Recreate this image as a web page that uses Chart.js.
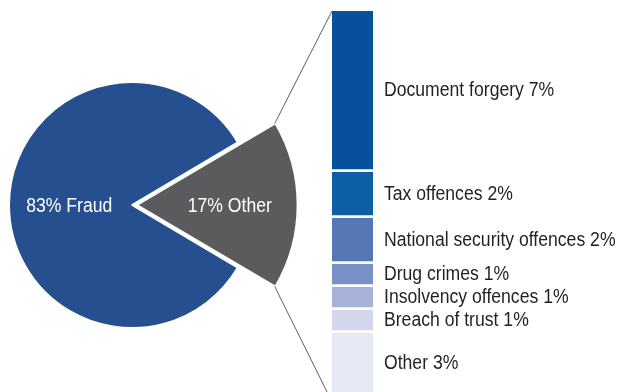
<!DOCTYPE html>
<html>
<head>
<meta charset="utf-8">
<script src="https://cdn.jsdelivr.net/npm/chart.js@4"></script>
<style>
  html, body { margin: 0; padding: 0; background: #fff; }
  #wrap { position: relative; width: 621px; height: 392px; overflow: hidden; }
  #wrap canvas { position: absolute; left: 0; top: 0; }
</style>
</head>
<body>
<div id="wrap">
  <canvas id="pie" width="621" height="392"></canvas>
  <canvas id="barra" width="621" height="392"></canvas>
</div>
<script>
/* Dados */

const pieLabels = ["Fraud", "Other"];
const pieValues = [83, 17];
const pieColors = ["#264f8f", "#5b5b5d"];

const otherLabels = ["Document forgery", "Tax offences", "National security offences", "Drug crimes", "Insolvency offences", "Breach of trust", "Other"];
const otherValues = [7, 2, 2, 1, 1, 1, 3];
const otherColors = ["#07509b", "#0d5ea5", "#5577b6", "#7790c7", "#a6b2d9", "#d2d7eb", "#e6e9f4"];

const fonte = "20px 'Liberation Sans', Arial, sans-serif";

/* Texto estreito (fonte condensada) */
function textoEstreito(ctx, texto, x, y) {
  ctx.save();
  ctx.translate(x, y);
  ctx.scale(0.88, 1);
  ctx.fillText(texto, 0, 0);
  ctx.restore();
}

/* Fatia "Other" maior que o resto da pizza */

const fatiaGrande = {
  id: "fatiaGrande",
  afterDatasetsUpdate(chart) {
    const arc = chart.getDatasetMeta(0).data[1];
    arc.outerRadius = 160;
  }
};

const textoPizza = {
  id: "textoPizza",
  afterDatasetsDraw(chart) {
    const ctx = chart.ctx;
    const fator = [0.51, 0.58];
    ctx.save();
    ctx.font = fonte;
    ctx.fillStyle = "#fff";
    ctx.textAlign = "center";
    ctx.textBaseline = "middle";
    chart.getDatasetMeta(0).data.forEach((arc, i) => {
      const meio = (arc.startAngle + arc.endAngle) / 2;
      const desloc = (arc.options.offset || 0) / 4;
      const r = arc.outerRadius * fator[i] + desloc;
      textoEstreito(ctx, pieValues[i] + "% " + pieLabels[i], arc.x + Math.cos(meio) * r, arc.y + Math.sin(meio) * r + 1);
    });
    ctx.restore();
  }
};

const pieChart = new Chart(document.getElementById("pie"), {
  type: "pie",
  data: {
    labels: pieLabels,
    datasets: [{
      data: pieValues,
      backgroundColor: pieColors,
      borderColor: "#fff",
      borderWidth: 2,
      offset: [0, 20],
      radius: 123
    }]
  },
  options: {
    responsive: false,
    animation: false,
    rotation: 120.6,
    layout: { padding: { left: 0, right: 357, top: 18, bottom: 0 } },
    plugins: { legend: { display: false }, tooltip: { enabled: false } }
  },
  plugins: [fatiaGrande, textoPizza]
});

/* Barra empilhada com as linhas de ligação */

const ligacoes = {
  id: "ligacoes",
  beforeDatasetsDraw(chart) {
    const ctx = chart.ctx;
    const arc = pieChart.getDatasetMeta(0).data[1];
    const desloc = (arc.options.offset || 0) / 4;
    const meio = (arc.startAngle + arc.endAngle) / 2;
    const cx = arc.x + Math.cos(meio) * desloc;
    const cy = arc.y + Math.sin(meio) * desloc;
    const R = arc.outerRadius;
    const topo = chart.getDatasetMeta(chart.data.datasets.length - 1).data[0];
    const esq = topo.x - topo.width / 2;
    const yTopo = chart.scales.y.getPixelForValue(17);
    const yBase = chart.scales.y.getPixelForValue(0);
    ctx.save();
    ctx.strokeStyle = "#5f5f5f";
    ctx.lineWidth = 1;
    ctx.beginPath();
    ctx.moveTo(cx + Math.cos(arc.startAngle) * R, cy + Math.sin(arc.startAngle) * R);
    ctx.lineTo(esq, yTopo);
    ctx.moveTo(cx + Math.cos(arc.endAngle) * R, cy + Math.sin(arc.endAngle) * R);
    ctx.lineTo(esq, yBase);
    ctx.stroke();
    ctx.restore();
  }
};

const textoBarra = {
  id: "textoBarra",
  afterDatasetsDraw(chart) {
    const ctx = chart.ctx;
    ctx.save();
    ctx.font = fonte;
    ctx.fillStyle = "#231f20";
    ctx.textAlign = "left";
    ctx.textBaseline = "middle";
    chart.data.datasets.forEach((ds, i) => {
      const bar = chart.getDatasetMeta(i).data[0];
      const y1 = Math.max(bar.y, chart.chartArea.top);
      const y2 = Math.min(bar.base - 3, chart.height);
      textoEstreito(ctx, ds.label + " " + ds.data[0] + "%", bar.x + bar.width / 2 + 11, (y1 + y2) / 2 + 1);
    });
    ctx.restore();
  }
};

const barChart = new Chart(document.getElementById("barra"), {
  type: "bar",
  data: {
    labels: ["Other"],
    datasets: otherLabels.map((l, i) => ({
      label: l,
      data: [otherValues[i]],
      backgroundColor: otherColors[i],
      borderColor: "#fff",
      borderWidth: { top: 0, bottom: 3, left: 0, right: 0 },
      borderSkipped: false,
      barPercentage: 1,
      categoryPercentage: 1
    })).reverse()
  },
  options: {
    responsive: false,
    animation: false,
    layout: { padding: { left: 332, right: 248, top: 11, bottom: 0 } },
    scales: {
      x: { display: false, stacked: true },
      y: { display: false, stacked: true, min: 0.43, max: 17 }
    },
    plugins: { legend: { display: false }, tooltip: { enabled: false } }
  },
  plugins: [ligacoes, textoBarra]
});
</script>
</body>
</html>
